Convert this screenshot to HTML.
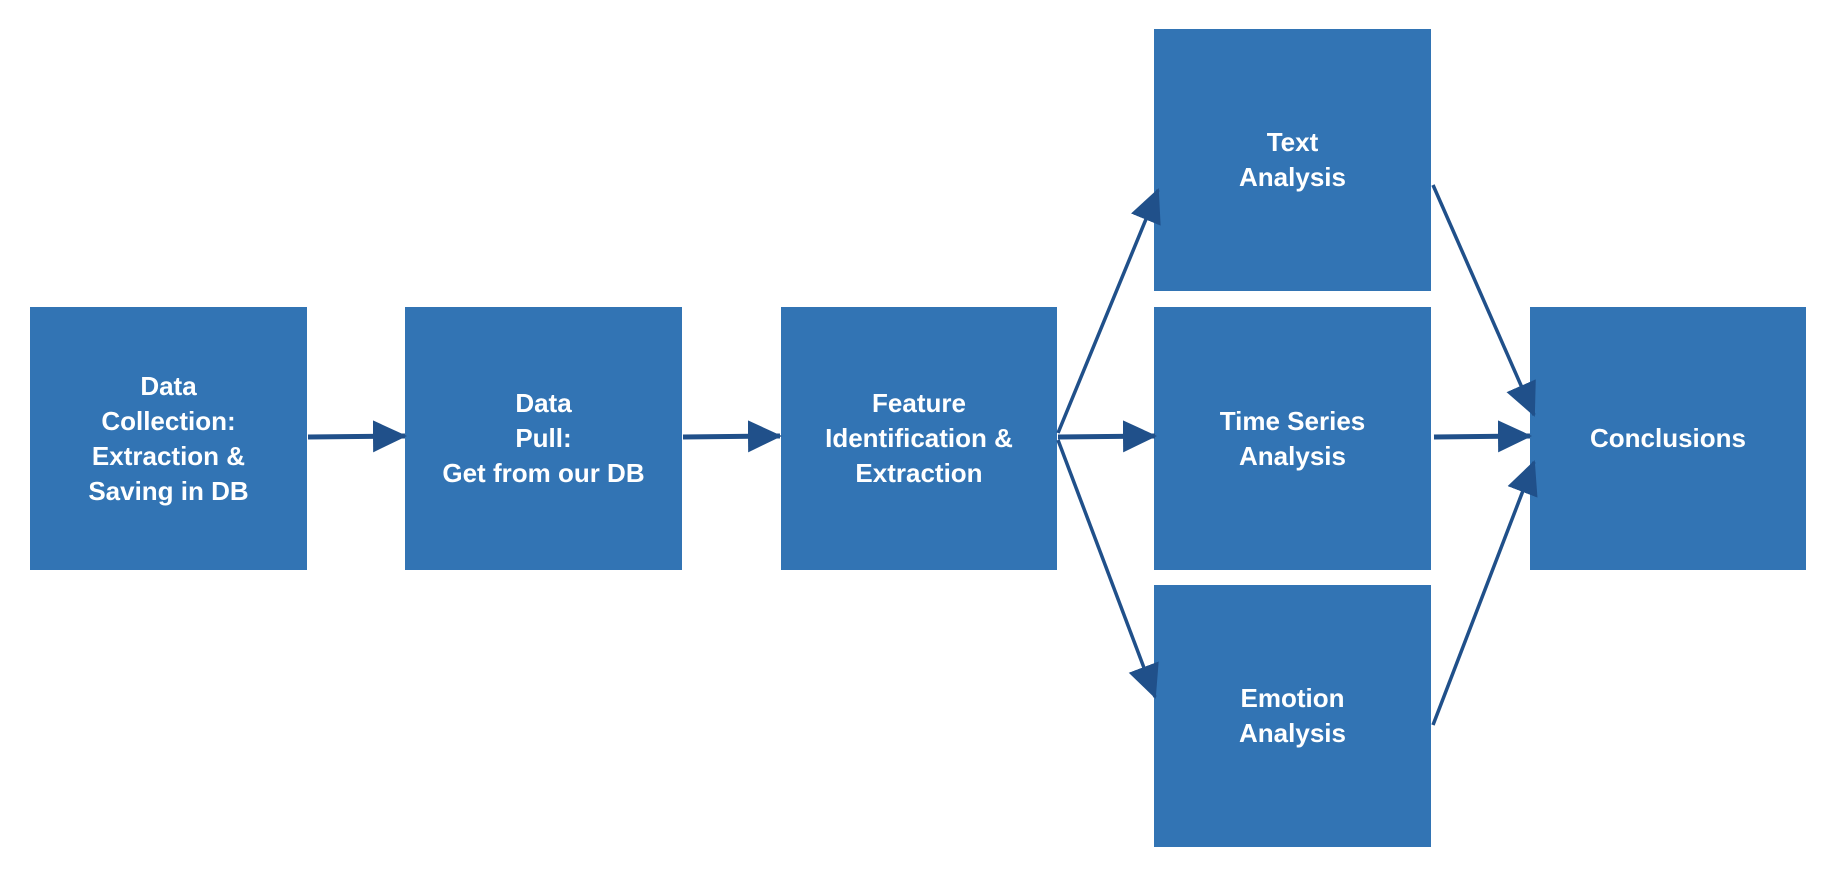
<!DOCTYPE html>
<html><head><meta charset="utf-8"><style>
body{margin:0;background:#fff;width:1838px;height:872px;position:relative;overflow:hidden;font-family:"Liberation Sans",sans-serif}
.b{position:absolute;background:#3274b4;color:#fff;font-weight:bold;font-size:26px;line-height:35px;display:flex;align-items:center;justify-content:center;text-align:center}
svg{position:absolute;left:0;top:0}
</style></head><body>
<div class="b" style="left:30px;top:307px;width:277px;height:263px">Data<br>Collection:<br>Extraction &amp;<br>Saving in DB</div>
<div class="b" style="left:405px;top:307px;width:277px;height:263px">Data<br>Pull:<br>Get from our DB</div>
<div class="b" style="left:781px;top:307px;width:276px;height:263px">Feature<br>Identification &amp;<br>Extraction</div>
<div class="b" style="left:1154px;top:29px;width:277px;height:262px">Text<br>Analysis</div>
<div class="b" style="left:1154px;top:307px;width:277px;height:263px">Time Series<br>Analysis</div>
<div class="b" style="left:1154px;top:585px;width:277px;height:262px">Emotion<br>Analysis</div>
<div class="b" style="left:1530px;top:307px;width:276px;height:263px">Conclusions</div>
<svg width="1838" height="872">
<defs><marker id="a" markerWidth="10" markerHeight="10" refX="9" refY="5" orient="auto" markerUnits="userSpaceOnUse" viewBox="0 0 10 10"><path d="M0,0 L10,5 L0,10z" fill="#20508a"/></marker>
<marker id="m" markerWidth="34" markerHeight="32" refX="32" refY="16" orient="auto" markerUnits="userSpaceOnUse"><path d="M0,0 L34,16 L0,32z" fill="#20508a"/></marker></defs>
<g stroke="#20508a" stroke-width="5" fill="none">
<line x1="308" y1="437" x2="405" y2="436" marker-end="url(#m)"/>
<line x1="683" y1="437" x2="780" y2="436" marker-end="url(#m)"/>
<line x1="1058" y1="437" x2="1155" y2="436" marker-end="url(#m)"/>
<line x1="1434" y1="437" x2="1530" y2="436" marker-end="url(#m)"/>
<line x1="1058" y1="433" x2="1158" y2="190" marker-end="url(#m)" stroke-width="3.5"/>
<line x1="1058" y1="440" x2="1155" y2="697" marker-end="url(#m)" stroke-width="3.5"/>
<line x1="1433" y1="185" x2="1534" y2="415" marker-end="url(#m)" stroke-width="3.5"/>
<line x1="1433" y1="725" x2="1534" y2="462" marker-end="url(#m)" stroke-width="3.5"/>
</g></svg>
</body></html>
